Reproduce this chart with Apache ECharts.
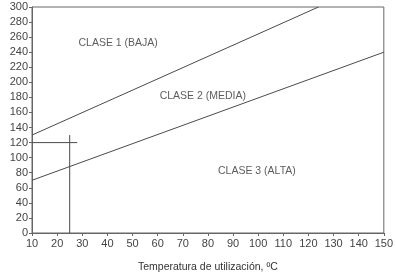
<!DOCTYPE html>
<html>
<head>
<meta charset="utf-8">
<script src="https://cdn.jsdelivr.net/npm/echarts@6/dist/echarts.min.js"></script>
<style>
    html, body {margin: 0; padding: 0; background: #fff;}
    #chart {width: 396px; height: 278px;}
</style>
</head>
<body>
<div id="chart"></div>
<script>
// limites entre clases (temperatura, presion)
var limiteBajaMedia = [[10, 130], [124, 300]];
var limiteMediaAlta = [[10, 70], [150, 240]];
// lineas de lectura del ejemplo
var lecturaHorizontal = [[10, 120], [28, 120]];
var lecturaVertical = [[25, 0], [25, 130]];
// rotulos de las zonas
var rotulos = [
    {name: 'CLASE 1 (BAJA)', value: [28.5, 252]},
    {name: 'CLASE 2 (MEDIA)', value: [60.8, 182]},
    {name: 'CLASE 3 (ALTA)', value: [84, 82]}
];

var fuente = '"Liberation Sans Narrow", "Liberation Sans", Arial, sans-serif';
var colorLinea = '#4a4a4a';

function serieLinea(datos) {
    return {
        type: 'line',
        data: datos,
        symbol: 'none',
        silent: true,
        lineStyle: {color: colorLinea, width: 1}
    };
}

var chart = echarts.init(document.getElementById('chart'));
var option = {
    animation: false,
    grid: {
        left: 32, right: 10, top: 7, bottom: 44,
        show: true, borderColor: '#666', borderWidth: 1
    },
    xAxis: {
        type: 'value',
        min: 10, max: 150, interval: 10,
        name: 'Temperatura de utilización, ºC',
        nameLocation: 'middle',
        nameGap: 29,
        nameTextStyle: {fontFamily: fuente, fontSize: 10.5, color: '#333'},
        axisLine: {show: true, lineStyle: {color: '#666'}},
        axisTick: {show: true, length: 3, lineStyle: {color: '#666'}},
        axisLabel: {fontFamily: fuente, fontSize: 11, color: '#444', margin: 5},
        splitLine: {show: false}
    },
    yAxis: {
        type: 'value',
        min: 0, max: 300, interval: 20,
        axisLine: {show: true, lineStyle: {color: '#666'}},
        axisTick: {show: true, length: 3, lineStyle: {color: '#666'}},
        axisLabel: {fontFamily: fuente, fontSize: 11, color: '#444', margin: 4},
        splitLine: {show: false}
    },
    series: [
        serieLinea(limiteBajaMedia),
        serieLinea(limiteMediaAlta),
        serieLinea(lecturaHorizontal),
        serieLinea(lecturaVertical),
        {
            type: 'scatter',
            data: rotulos,
            symbolSize: 0,
            silent: true,
            label: {
                show: true,
                position: 'right',
                distance: 0,
                formatter: '{b}',
                fontFamily: fuente,
                fontSize: 10.5,
                color: '#333'
            }
        }
    ]
};
chart.setOption(option);
</script>
</body>
</html>
